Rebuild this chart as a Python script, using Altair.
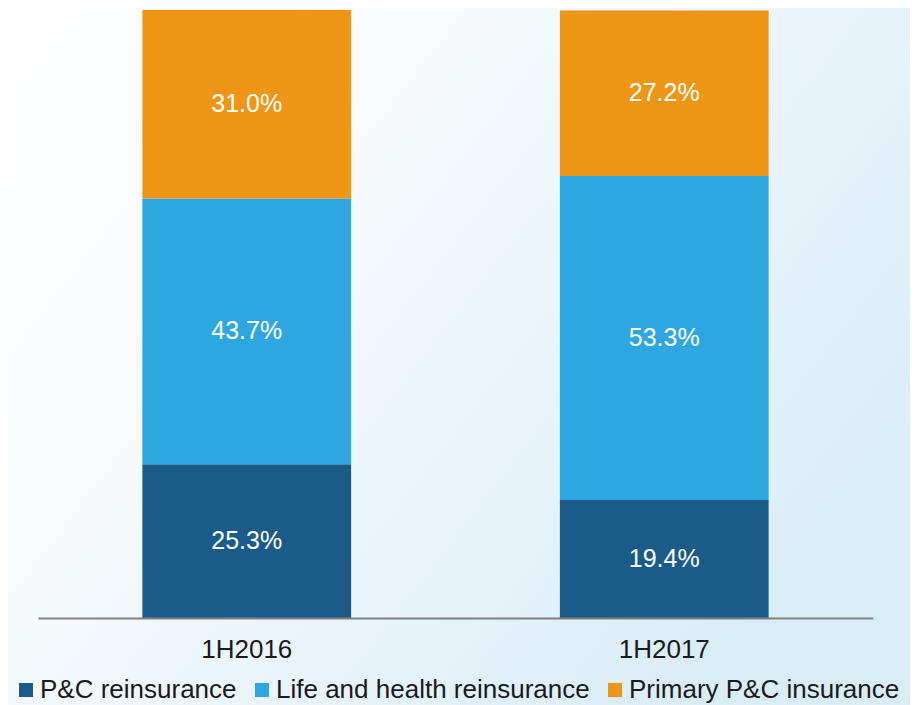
import altair as alt
import pandas as pd

periods = ["1H2016", "1H2017"]
segments = ["P&C reinsurance", "Life and health reinsurance", "Primary P&C insurance"]
pc_reinsurance = [25.3, 19.4]
life_health_reinsurance = [43.7, 53.3]
primary_pc_insurance = [31.0, 27.2]
colors = ["#1b5b8a", "#2ea6e0", "#f09617"]

rows = []
for i, p in enumerate(periods):
    for k, (s, vals) in enumerate(zip(segments, [pc_reinsurance, life_health_reinsurance, primary_pc_insurance])):
        rows.append({"period": p, "segment": s, "value": vals[i], "order": k})
df = pd.DataFrame(rows)

W, H = 835, 608
PL, PT, PR, PB = 30, 2, 37, 87
FONT = "Liberation Sans"

grad = alt.LinearGradient(
    gradient="linear",
    stops=[
        alt.GradientStop(color="#ffffff", offset=0.0),
        alt.GradientStop(color="#f8fbfd", offset=0.35),
        alt.GradientStop(color="#d9edf7", offset=1.0),
    ],
    x1=0, y1=0, x2=1, y2=0.6,
)

bg = alt.Chart(pd.DataFrame({"a": [0]})).mark_rect(color=grad).encode(
    x=alt.value(-PL), x2=alt.value(W + PR), y=alt.value(-PT), y2=alt.value(H + PB)
)

xaxis = alt.Axis(labelAngle=0, ticks=False, tickSize=0, labelPadding=18,
                 domainColor="#808080", domainWidth=2, labelFontSize=26,
                 labelFont=FONT, labelColor="#1a1a1a", grid=False, zindex=2)

bars = alt.Chart(df).mark_bar().encode(
    x=alt.X("period:N", sort=periods, title=None,
            scale=alt.Scale(paddingInner=0.5, paddingOuter=0.25), axis=xaxis),
    y=alt.Y("value:Q", stack="zero", scale=alt.Scale(domain=[0, 100]), axis=None),
    color=alt.Color(
        "segment:N", sort=segments,
        scale=alt.Scale(domain=segments, range=colors),
        legend=alt.Legend(
            orient="none", legendX=-25, legendY=667, direction="horizontal",
            title=None, symbolType="square", symbolSize=196, symbolStrokeWidth=0,
            labelFontSize=26, labelFont=FONT, labelColor="#1a1a1a",
            labelOffset=1, columnPadding=12, labelLimit=600, padding=0,
        ),
    ),
    order=alt.Order("order:Q", sort="ascending"),
)

labels = alt.Chart(df).transform_stack(
    stack="value", as_=["v0", "v1"], groupby=["period"],
    sort=[alt.SortField("order", order="ascending")],
).transform_calculate(
    mid="(datum.v0 + datum.v1) / 2",
    label="format(datum.value, '.1f') + '%'",
).mark_text(color="white", fontSize=25, font=FONT).encode(
    x=alt.X("period:N", sort=periods, title=None, axis=xaxis),
    y=alt.Y("mid:Q", axis=None),
    text="label:N",
)

chart = alt.layer(bg, bars, labels).properties(
    width=W, height=H,
    padding={"left": PL, "top": PT, "right": PR, "bottom": PB},
    autosize=alt.AutoSizeParams(type="none"),
).configure_view(stroke=None)

chart.save("out.html", embed_options={"renderer": "svg", "actions": False})
